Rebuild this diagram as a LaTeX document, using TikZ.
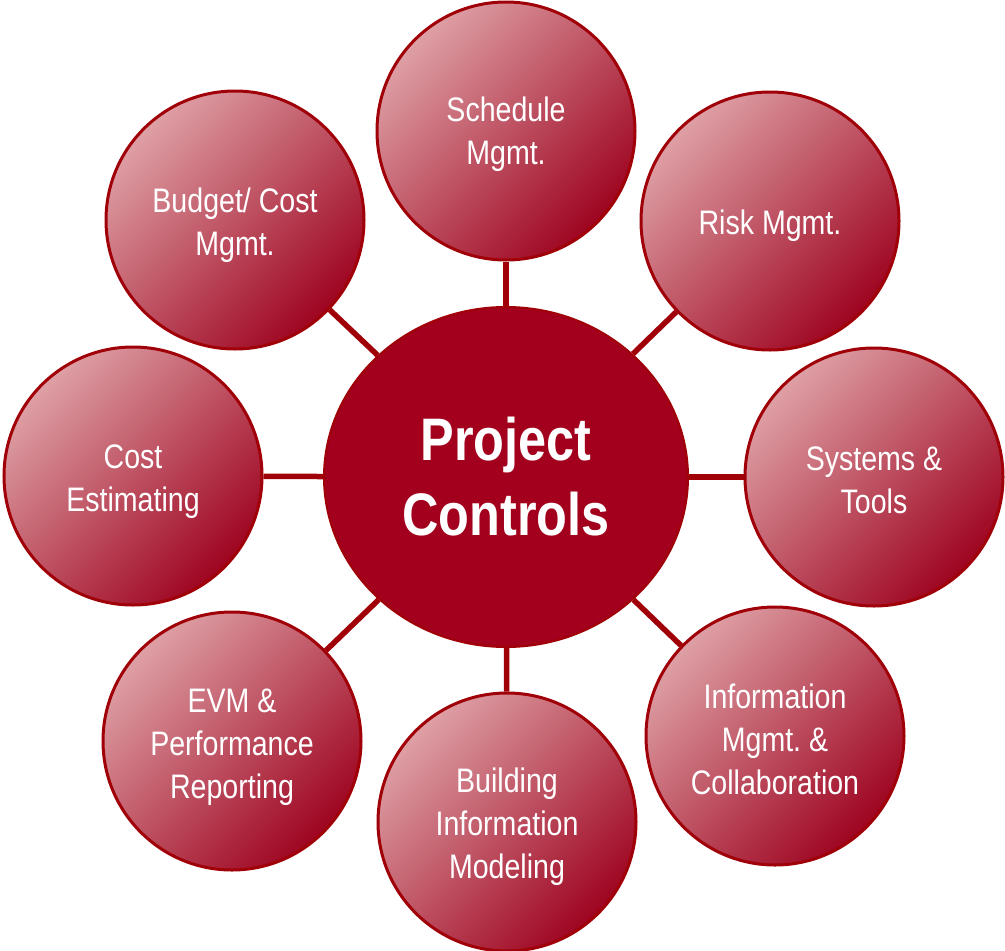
\documentclass[tikz,border=0pt]{standalone}
\usepackage{fontspec}
\setmainfont{Liberation Sans}[FakeStretch=0.84]
\usetikzlibrary{shapes.geometric}
\definecolor{ringred}{RGB}{160,0,8}
\definecolor{corered}{RGB}{162,0,28}
\definecolor{lightred}{RGB}{222,160,165}
\definecolor{midred}{RGB}{194,80,96}
\definecolor{darkred}{RGB}{158,4,32}
\tikzset{
  sat/.style={circle, draw=ringred, line width=3pt, minimum size=258pt, inner sep=0pt,
    top color=lightred, middle color=midred, bottom color=darkred, shading angle=45},
  lbl/.style={text=white, align=center, inner sep=0pt,
    font=\frenchspacing\fontsize{34}{43}\selectfont},
  core/.style={ellipse, draw=ringred, line width=2pt, fill=corered, minimum width=364pt,
    minimum height=340pt, inner sep=0pt, text=white, align=center,
    font=\bfseries\fontsize{60}{75}\selectfont},
  link/.style={draw=ringred, line width=5.5pt}
}
\begin{document}
\begin{tikzpicture}[x=1pt,y=-1pt]
\useasboundingbox (0,0) rectangle (1005,951);
\node[core] (c) at (506,477) {Project\\Controls};
\node[sat] (s1) at (506,131) {};
\node[sat] (s2) at (770,221) {};
\node[sat] (s3) at (874,477) {};
\node[sat] (s4) at (775,736) {};
\node[sat] (s5) at (507,822) {};
\node[sat] (s6) at (232,741) {};
\node[sat] (s7) at (133,476) {};
\node[sat] (s8) at (235,220) {};
\foreach \i in {1,...,8} {\draw[link] (c) -- (s\i);}
\node[lbl] (t1) at ([yshift=-3pt]s1.center) {Schedule\\Mgmt.};
\node[lbl] (t2) at ([yshift=-5pt]s2.center) {Risk Mgmt.};
\node[lbl] (t3) at ([yshift=-3pt]s3.center) {Systems \&\\Tools};
\node[lbl] (t4) at ([yshift=-3pt]s4.center) {Information\\Mgmt. \&\\Collaboration};
\node[lbl] (t5) at ([yshift=-5pt]s5.center) {Building\\Information\\Modeling};
\node[lbl] (t6) at ([yshift=-6pt]s6.center) {EVM \&\\Performance\\Reporting};
\node[lbl] (t7) at ([yshift=-6pt]s7.center) {Cost\\Estimating};
\node[lbl] (t8) at ([yshift=-5pt]s8.center) {Budget/ Cost\\Mgmt.};
\end{tikzpicture}
\end{document}
